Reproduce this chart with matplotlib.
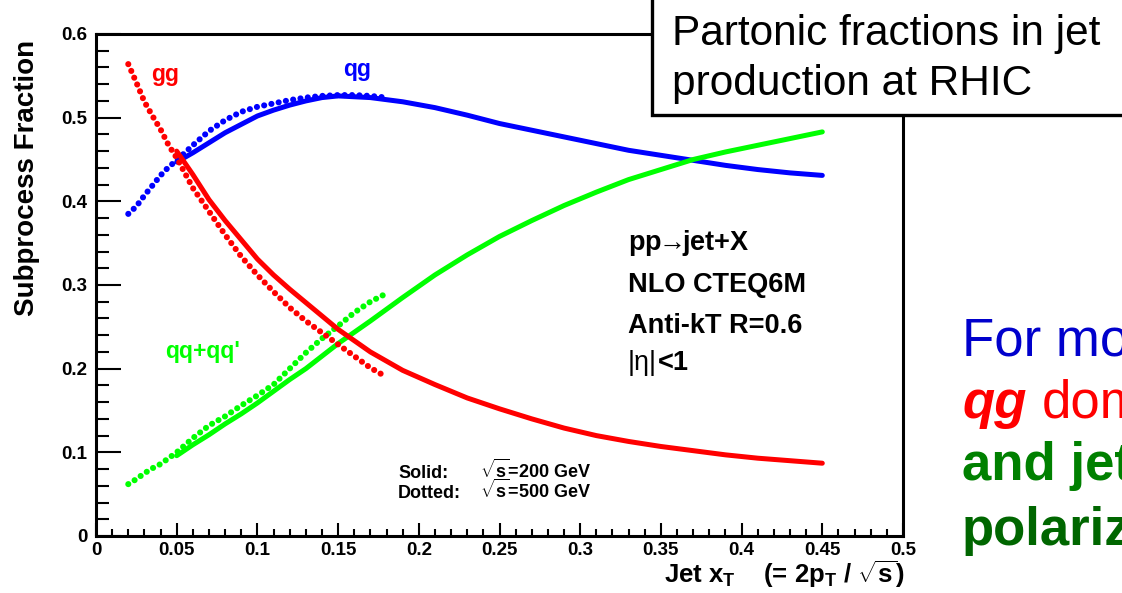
import matplotlib
matplotlib.use('Agg')
import matplotlib.pyplot as plt
from matplotlib.patches import Rectangle
from matplotlib.ticker import MultipleLocator, FuncFormatter

plt.rcParams['font.family'] = ['Liberation Sans', 'DejaVu Sans']
plt.rcParams['mathtext.fontset'] = 'custom'
plt.rcParams['mathtext.rm'] = 'Liberation Sans'
plt.rcParams['mathtext.bf'] = 'Liberation Sans:bold'
plt.rcParams['mathtext.it'] = 'Liberation Sans:italic'

# sqrt(s) = 200 GeV (solid)
xt_200 = [0.05, 0.06, 0.07, 0.08, 0.09, 0.10, 0.11, 0.12, 0.13, 0.14, 0.15,
          0.17, 0.19, 0.21, 0.23, 0.25, 0.27, 0.29, 0.31, 0.33, 0.35, 0.37,
          0.39, 0.41, 0.43, 0.45]
qg_200 = [0.447, 0.458, 0.470, 0.482, 0.492, 0.502, 0.509, 0.515, 0.520, 0.524,
          0.526, 0.524, 0.519, 0.512, 0.503, 0.493, 0.485, 0.477, 0.469, 0.461,
          0.455, 0.449, 0.443, 0.438, 0.434, 0.431]
gg_200 = [0.460, 0.432, 0.402, 0.377, 0.354, 0.331, 0.312, 0.295, 0.279, 0.263,
          0.247, 0.220, 0.198, 0.181, 0.165, 0.152, 0.140, 0.129, 0.120, 0.113,
          0.107, 0.102, 0.097, 0.093, 0.090, 0.087]
qq_200 = [0.096, 0.109, 0.121, 0.134, 0.146, 0.159, 0.173, 0.187, 0.200, 0.215,
          0.230, 0.257, 0.285, 0.312, 0.336, 0.358, 0.377, 0.395, 0.411, 0.426,
          0.438, 0.450, 0.459, 0.467, 0.475, 0.483]

# sqrt(s) = 500 GeV (dotted)
xt_500 = [0.02, 0.025, 0.03, 0.035, 0.04, 0.045, 0.05, 0.06, 0.07, 0.08, 0.09,
          0.10, 0.11, 0.12, 0.13, 0.14, 0.15, 0.16, 0.17, 0.18]
qg_500 = [0.385, 0.394, 0.407, 0.419, 0.431, 0.441, 0.449, 0.467, 0.484, 0.497,
          0.507, 0.513, 0.517, 0.521, 0.524, 0.526, 0.527, 0.527, 0.526, 0.524]
gg_500 = [0.564, 0.542, 0.519, 0.502, 0.486, 0.467, 0.452, 0.416, 0.388, 0.360,
          0.334, 0.312, 0.292, 0.273, 0.257, 0.243, 0.229, 0.215, 0.201, 0.190]
qq_500 = [0.062, 0.068, 0.075, 0.081, 0.086, 0.093, 0.100, 0.117, 0.132, 0.143,
          0.156, 0.168, 0.181, 0.200, 0.219, 0.236, 0.251, 0.267, 0.280, 0.290]

colors = {'qg': '#0000FF', 'gg': '#FF0000', 'qq': '#00FF00'}

W, H = 1122, 593
fig = plt.figure(figsize=(W / 100, H / 100), dpi=100)
fig.patch.set_facecolor('white')
ax = fig.add_axes([96 / W, (H - 536) / H, (903 - 96) / W, (536 - 34) / H])

dotted = (0, (0.01, 1.2))
for name, y2, y5 in [('qg', qg_200, qg_500), ('qq', qq_200, qq_500), ('gg', gg_200, gg_500)]:
    ax.plot(xt_200, y2, color=colors[name], lw=3.6, solid_capstyle='round',
            solid_joinstyle='round')
    ax.plot(xt_500, y5, color=colors[name], lw=4.4, linestyle=dotted,
            dash_capstyle='round')

ax.set_xlim(0, 0.5)
ax.set_ylim(0, 0.6)
ax.xaxis.set_major_locator(MultipleLocator(0.05))
ax.xaxis.set_minor_locator(MultipleLocator(0.01))
ax.yaxis.set_major_locator(MultipleLocator(0.1))
ax.yaxis.set_minor_locator(MultipleLocator(0.02))
fmt = FuncFormatter(lambda v, p: '%g' % round(v, 3))
ax.xaxis.set_major_formatter(fmt)
ax.yaxis.set_major_formatter(fmt)
for s in ax.spines.values():
    s.set_linewidth(2.2)
ax.tick_params(axis='y', which='major', direction='in', length=18, width=1.5, pad=6)
ax.tick_params(axis='y', which='minor', direction='in', length=9.5, width=1.5)
ax.tick_params(axis='x', which='major', direction='in', length=9.5, width=1.5, pad=4)
ax.tick_params(axis='x', which='minor', direction='in', length=5, width=1.5)
for lab in ax.get_xticklabels() + ax.get_yticklabels():
    lab.set_fontsize(13.5)
    lab.set_fontweight('bold')

# curve labels
ax.text(0.043, 0.551, 'gg', color=colors['gg'], fontsize=16.5, fontweight='bold', ha='center', va='center')
ax.text(0.162, 0.557, 'qg', color=colors['qg'], fontsize=16.5, fontweight='bold', ha='center', va='center')
ax.text(0.043, 0.22, "qq+qq'", color=colors['qq'], fontsize=16.5, fontweight='bold', ha='left', va='center')

# axis titles (ROOT style, aligned to the end)
fig.text(27 / W, 1 - 40 / H, 'Subprocess Fraction', rotation=90, fontsize=20,
         fontweight='bold', ha='center', va='top')
fig.text(905 / W, 1 - 583 / H,
         r'Jet x$_{\mathbf{T}}$    (= 2p$_{\mathbf{T}}$ / $\sqrt{\mathbf{s}}$)',
         fontsize=18.5, fontweight='bold', ha='right', va='baseline')

# physics info
for txt, yb in [(r'pp$\!\!\rightarrow\!\!$jet+X', 250), ('NLO CTEQ6M', 292), ('Anti-kT R=0.6', 333)]:
    fig.text(628 / W, 1 - yb / H, txt, fontsize=19.5, fontweight='bold', va='baseline')
fig.text(628 / W, 1 - 370 / H, '|\u03b7|', fontsize=19.5, va='baseline')
fig.text(658 / W, 1 - 370 / H, '<1', fontsize=19.5, fontweight='bold', va='baseline')

fig.text(398 / W, 1 - 478 / H, 'Solid:', fontsize=13, fontweight='bold', va='baseline')
fig.text(480 / W, 1 - 478 / H, r'$\sqrt{\mathbf{s}}$=200 GeV', fontsize=13, fontweight='bold', va='baseline')
fig.text(398 / W, 1 - 498 / H, 'Dotted:', fontsize=13, fontweight='bold', va='baseline')
fig.text(480 / W, 1 - 498 / H, r'$\sqrt{\mathbf{s}}$=500 GeV', fontsize=13, fontweight='bold', va='baseline')

# slide title box
box = Rectangle((652 / W, 1 - 115 / H), 0.6, 0.3, transform=fig.transFigure,
                facecolor='white', edgecolor='black', lw=2.4, zorder=5, clip_on=False)
fig.add_artist(box)
fig.text(672 / W, 1 - 45 / H, 'Partonic fractions in jet', fontsize=30.5, va='baseline', zorder=6)
fig.text(672 / W, 1 - 95 / H, 'production at RHIC', fontsize=30.5, va='baseline', zorder=6)

# slide side text (cut off at the right edge)
fig.text(962 / W, 1 - 355 / H, 'For mo', fontsize=38, color='#0000CC', va='baseline')
fig.text(962 / W, 1 - 418 / H, 'qg', fontsize=38, color='#FF0000', fontweight='bold',
         style='italic', va='baseline')
fig.text(1042 / W, 1 - 418 / H, 'dom', fontsize=38, color='#FF0000', va='baseline')
fig.text(962 / W, 1 - 480 / H, 'and jet', fontsize=38, color='#008000', fontweight='bold', va='baseline')
fig.text(962 / W, 1 - 545 / H, 'polariz', fontsize=38, color='#006600', fontweight='bold', va='baseline')

fig.savefig('out.png', dpi=100)
